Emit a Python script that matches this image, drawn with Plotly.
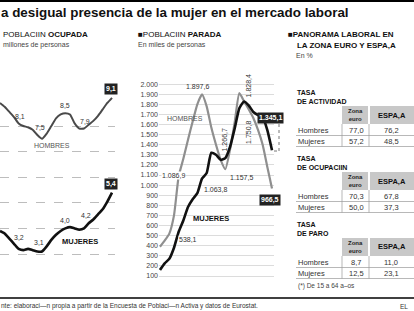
import plotly.graph_objects as go

W, H = 414, 311
def X(px): return px / W
def Y(py): return 1 - py / H

FONT = "Liberation Sans"

# ---------------- DATA ----------------
anios = list(range(1976, 2001))
# Poblacion ocupada (millones)
ocup_hombres = [8.9, 8.75, 8.55, 8.35, 8.1, 8.0, 7.95, 7.85, 7.65, 7.5, 7.7, 8.0, 8.3, 8.45, 8.5,
                8.45, 8.1, 7.9, 7.9, 8.05, 8.2, 8.4, 8.65, 8.9, 9.1]
ocup_mujeres = [3.9, 3.8, 3.6, 3.4, 3.2, 3.15, 3.2, 3.15, 3.1, 3.1, 3.3, 3.55, 3.75, 3.9, 4.0,
                4.05, 4.0, 3.95, 4.0, 4.2, 4.35, 4.55, 4.75, 5.05, 5.4]
# Poblacion parada (miles)
par_hombres = [390, 450, 520, 700, 1086.9, 1260, 1450, 1630, 1800, 1897.6, 1780, 1570, 1400, 1250, 1157.5,
               1350, 1620, 1910, 1830, 1750.8, 1664, 1546, 1400, 1180, 966.5]
par_mujeres = [160, 225, 270, 380, 538.1, 650, 783, 860, 920, 1063.8, 1120, 1320, 1300, 1250, 1266.7,
               1377, 1560, 1760, 1828.4, 1790, 1724, 1694, 1674, 1545, 1345.1]
par_ticks = list(range(100, 2001, 100))

# Tablas (en %)
tabla_titulos = ["TASA<br>DE ACTIVIDAD", "TASA<br>DE OCUPACIIN", "TASA<br>DE PARO"]
tabla_filas = ["Hombres", "Mujeres"]
tabla_columnas = ["Zona<br>euro", "ESPA‚A"]
zona_euro = [[77.0, 57.2], [70.3, 50.0], [8.7, 12.5]]
espana = [[76.2, 48.5], [67.8, 37.3], [11.0, 23.1]]


def es(v, dec=1):
    s = f"{v:,.{dec}f}"
    return s.replace(",", "X").replace(".", ",").replace("X", ".")


fig = go.Figure()

# ---------------- traces ----------------
fig.add_trace(go.Scatter(x=anios, y=ocup_hombres, mode="lines", xaxis="x", yaxis="y",
                         line=dict(color="#4a4a4a", width=2, shape="spline", smoothing=0.5),
                         hoverinfo="skip", showlegend=False))
fig.add_trace(go.Scatter(x=anios, y=ocup_mujeres, mode="lines", xaxis="x", yaxis="y",
                         line=dict(color="#111111", width=2.6, shape="spline", smoothing=0.5),
                         hoverinfo="skip", showlegend=False))
fig.add_trace(go.Scatter(x=anios, y=par_hombres, mode="lines", xaxis="x2", yaxis="y2",
                         line=dict(color="#8f8f8f", width=2.2, shape="spline", smoothing=0.5),
                         hoverinfo="skip", showlegend=False))
fig.add_trace(go.Scatter(x=anios, y=par_mujeres, mode="lines", xaxis="x2", yaxis="y2",
                         line=dict(color="#111111", width=2.6, shape="spline", smoothing=0.5),
                         hoverinfo="skip", showlegend=False))

ann = []
shapes = []

def txt(px, py, text, size=7, color="#222", xanchor="left", yanchor="middle", **kw):
    ann.append(dict(x=X(px), y=Y(py), xref="paper", yref="paper", text=text, showarrow=False,
                    xanchor=xanchor, yanchor=yanchor, align=xanchor if xanchor != "center" else "center",
                    font=dict(family=FONT, size=size, color=color), **kw))

def dlab(ax, year, series, text, dx, dy, box=False, angle=0, bg=None):
    v = series[anios.index(year)]
    d = dict(x=year, y=v, xref=ax[0], yref=ax[1], text=text, showarrow=False,
             xshift=dx, yshift=dy, textangle=angle,
             font=dict(family=FONT, size=7, color="#333"))
    if box:
        d["bgcolor"] = "#222"
        d["font"] = dict(family=FONT, size=7, color="white")
        d["text"] = "<b>" + text + "</b>"
        d["borderpad"] = 1
    elif bg:
        d["bgcolor"] = bg
        d["borderpad"] = 0
    ann.append(d)

# ---------------- headers ----------------
shapes.append(dict(type="rect", xref="paper", yref="paper", x0=0, x1=1, y0=Y(2), y1=Y(0),
                   fillcolor="black", line=dict(width=0)))
txt(-1, 12.5, "<b>a desigual presencia de la mujer en el mercado laboral</b>", size=13.4, color="#111")

txt(1, 34, "POBLACIIN <b>OCUPADA</b>", size=8, color="#111")
txt(1, 45, "millones de personas", size=7, color="#444")

txt(136, 34, "■POBLACIIN <b>PARADA</b>", size=8, color="#111")
txt(136, 45, "En miles de personas", size=7, color="#444")

txt(286, 34, "<b>■PANORAMA LABORAL EN</b>", size=8, color="#111")
txt(286, 45, "<b>    LA ZONA EURO Y ESPA‚A</b>", size=8, color="#111")
txt(294, 56, "En %", size=7, color="#444")

# ---------------- chart labels ----------------
A1 = ("x", "y")
A2 = ("x2", "y2")
for yr, dx, dy in [(1980, 1, 7), (1985, -2, 11), (1990, 0, 8), (1994, 1, 7)]:
    dlab(A1, yr, ocup_hombres, es(ocup_hombres[anios.index(yr)]), dx, dy)
dlab(A1, 2000, ocup_hombres, es(9.1), -1, 9, box=True)
for yr, dx, dy in [(1980, 0, 11), (1985, -3, 9), (1990, 0, 8), (1995, -3, 8)]:
    dlab(A1, yr, ocup_mujeres, es(ocup_mujeres[anios.index(yr)]), dx, dy)
dlab(A1, 2000, ocup_mujeres, es(5.4), -1, 9, box=True)
txt(52, 145, "HOMBRES", size=7, color="#555", xanchor="center")
txt(80, 241, "<b>MUJERES</b>", size=7.5, color="#111", xanchor="center")

dlab(A2, 1985, par_hombres, es(1897.6), -5, 8)
dlab(A2, 1980, par_hombres, es(1086.9), -5, 1, bg="white")
dlab(A2, 1990, par_hombres, es(1157.5), 16, -8)
dlab(A2, 1995, par_hombres, es(1750.8), 0, -23, angle=-90)
dlab(A2, 2000, par_hombres, es(966.5), -2, -12, box=True)
dlab(A2, 1980, par_mujeres, es(538.1), 9, -8, bg="white")
dlab(A2, 1985, par_mujeres, es(1063.8), 13, -11)
dlab(A2, 1990, par_mujeres, es(1266.7), -1, 18, angle=-90)
dlab(A2, 1994, par_mujeres, es(1828.4), 4, 15, angle=-90)
dlab(A2, 2000, par_mujeres, es(1345.1), -2, 32, box=True)
txt(185, 119, "HOMBRES", size=7, color="#555", xanchor="center")
txt(211, 218, "<b>MUJERES</b>", size=7.5, color="#111", xanchor="center")

# dotted leader
shapes.append(dict(type="line", xref="paper", yref="paper", x0=X(279), x1=X(279), y0=Y(124), y1=Y(151),
                   line=dict(color="#777", width=1, dash="dot")))
shapes.append(dict(type="line", xref="paper", yref="paper", x0=X(274), x1=X(279), y0=Y(151), y1=Y(151),
                   line=dict(color="#777", width=1, dash="dot")))

# ---------------- tables ----------------
title_tops = [93, 159, 225]
for t in range(3):
    t0 = title_tops[t]
    txt(295, t0 + 3.5, "<b>" + tabla_titulos[t] + "</b>", size=7, color="#111")
    htop = t0 + 13
    hbot = htop + 18
    shapes.append(dict(type="rect", xref="paper", yref="paper", x0=X(342), x1=X(368), y0=Y(hbot), y1=Y(htop),
                       fillcolor="#c8c8c8", line=dict(width=0)))
    shapes.append(dict(type="rect", xref="paper", yref="paper", x0=X(370), x1=X(414), y0=Y(hbot), y1=Y(htop),
                       fillcolor="#c8c8c8", line=dict(width=0)))
    txt(355, (htop + hbot) / 2, "<b>" + tabla_columnas[0] + "</b>", size=6, color="#222", xanchor="center")
    txt(392, (htop + hbot) / 2, "<b>" + tabla_columnas[1] + "</b>", size=7.5, color="#111", xanchor="center")
    for r in range(2):
        cy = hbot + 6 + r * 11
        txt(296, cy, tabla_filas[r], size=7.5, color="#333")
        txt(356, cy, es(zona_euro[t][r]), size=7.5, color="#333", xanchor="center")
        txt(391, cy, es(espana[t][r]), size=7.5, color="#333", xanchor="center")
        ly = hbot + 11.5 + r * 11
        shapes.append(dict(type="line", xref="paper", yref="paper", x0=X(296), x1=X(414), y0=Y(ly), y1=Y(ly),
                           line=dict(color="#999", width=0.7)))
    for vx in [342, 369]:
        shapes.append(dict(type="line", xref="paper", yref="paper", x0=X(vx), x1=X(vx),
                           y0=Y(hbot + 22.5), y1=Y(hbot), line=dict(color="#999", width=0.7)))

txt(296, 286, "(*) De 15 a 64 a–os", size=6.5, color="#444")

# ---------------- footer ----------------
shapes.append(dict(type="line", xref="paper", yref="paper", x0=0, x1=1, y0=Y(298), y1=Y(298),
                   line=dict(color="black", width=1.5)))
txt(-1, 306, "nte: elaboraci—n propia a partir de la Encuesta de Poblaci—n Activa y datos de Eurostat.",
    size=6.5, color="#333")
txt(398, 306, "EL", size=6.5, color="#333")

# ---------------- axes ----------------
px_yr = 4.667
fig.update_layout(
    width=W, height=H, margin=dict(l=0, r=0, t=0, b=0),
    paper_bgcolor="white", plot_bgcolor="rgba(0,0,0,0)",
    showlegend=False,
    xaxis=dict(domain=[0, X(115)], range=[1976, 1976 + 115 / px_yr], visible=False),
    yaxis=dict(domain=[Y(285), Y(60)], range=[3 - (285 - 254) / 25.6, 3 + (254 - 60) / 25.6],
               tickvals=[3, 4, 5, 6, 7, 8], showticklabels=False, showgrid=True,
               gridcolor="#bdbdbd", griddash="dash", gridwidth=1, zeroline=False, showline=False),
    xaxis2=dict(domain=[X(159), X(274)], range=[1976 - 1 / px_yr, 2000 + 2 / px_yr], visible=False,
                anchor="y2"),
    yaxis2=dict(domain=[Y(282), Y(80)], range=[100 - 6 / 0.101, 100 + (276 - 80) / 0.101],
                anchor="x2", tickvals=par_ticks, ticktext=[es(v, 0) for v in par_ticks],
                tickfont=dict(family=FONT, size=7, color="#444"), ticks="",
                showgrid=True, gridcolor="#dcdcdc", gridwidth=1, zeroline=False, showline=False),
    annotations=ann, shapes=shapes,
)

fig.write_html("out.html")
